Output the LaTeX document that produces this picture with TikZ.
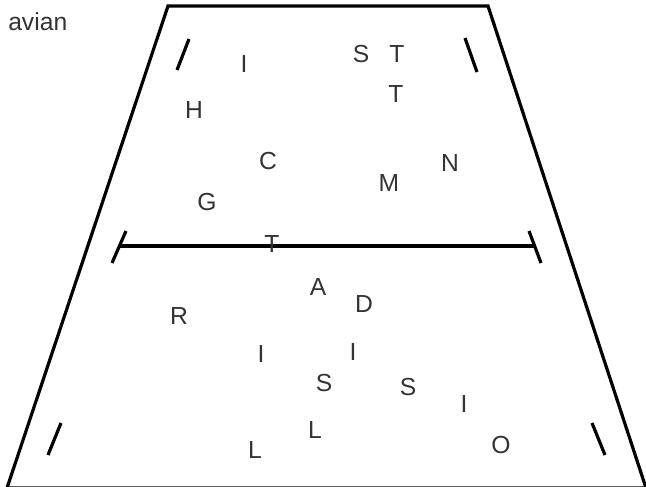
\documentclass[tikz,border=0pt]{standalone}
\usepackage{fontspec}
\setmainfont{Liberation Sans}
\begin{document}
\begin{tikzpicture}[
  x=0.75pt, y=-0.75pt,
  player/.style={inner sep=0pt, font=\fontsize{18.5}{20}\selectfont, text=black!80},
  court line/.style={draw, line width=2.4pt},
  mark line/.style={draw, line width=2.4pt}
]
\useasboundingbox (0,0) rectangle (646,486);
% Define the court
\path[court line] (168,6) -- (488,6) -- (646,488) -- (7,488) -- cycle;
\path[court line] (120,246) -- (535,246);
\path[mark line] (126,231) -- (112,263);
\path[mark line] (529,231) -- (541,263);
\path[mark line] (189,39) -- (177,70);
\path[mark line] (465,38) -- (477,72);
\path[mark line] (61,423) -- (48,455);
\path[mark line] (592,423) -- (605,455);
% Define the nodes
\node[player, anchor=west] (name) at (8,22) {avian};
\node[player] (I1) at (244,64) {I};
\node[player] (S1) at (361,54) {S};
\node[player] (T1) at (397,54) {T};
\node[player] (T2) at (396,94) {T};
\node[player] (H) at (194,110) {H};
\node[player] (C) at (268,161) {C};
\node[player] (N) at (450,163) {N};
\node[player] (M) at (389,183) {M};
\node[player] (G) at (207,202) {G};
\node[player] (T3) at (272,244) {T};
\node[player] (A) at (318,287) {A};
\node[player] (D) at (364,304) {D};
\node[player] (R) at (179,316) {R};
\node[player] (I2) at (261,354) {I};
\node[player] (I3) at (353,352) {I};
\node[player] (S2) at (324,383) {S};
\node[player] (S3) at (408,387) {S};
\node[player] (I4) at (464,404) {I};
\node[player] (L1) at (315,430) {L};
\node[player] (O) at (501,445) {O};
\node[player] (L2) at (255,450) {L};
\end{tikzpicture}
\end{document}
